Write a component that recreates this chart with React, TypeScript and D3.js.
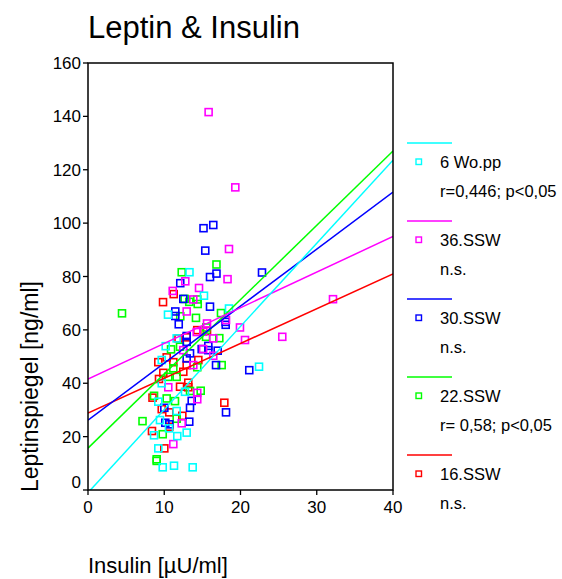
import React from "react";
import * as d3 from "d3";

// ---------- data ----------
const seriesNames = ["6 Wo.pp", "36.SSW", "30.SSW", "22.SSW", "16.SSW"];
const seriesStats = ["r=0,446; p<0,05", "n.s.", "n.s.", "r= 0,58; p<0,05", "n.s."];
const seriesColors = ["#00ffff", "#ff00ff", "#0000ff", "#00ff00", "#ff0000"];

// [insulin, leptin]
const cyanPoints: [number, number][] = [
  [13.31, 81.6], [15.21, 72.8], [18.49, 68.0], [10.49, 65.7], [22.43, 46.2], [11.63, 56.8],
  [10.19, 53.9], [9.67, 48.7], [9.67, 40.0], [12.72, 36.8], [9.22, 33.1], [11.63, 29.6],
  [9.44, 26.2], [10.62, 23.1], [8.66, 20.5], [11.71, 20.2], [12.94, 21.5], [9.22, 15.6],
  [9.8, 8.5], [11.28, 9.1], [13.73, 8.5],
];
const magentaPoints: [number, number][] = [
  [15.82, 141.6], [19.32, 113.4], [18.49, 90.3], [18.3, 79.0], [12.76, 78.2], [14.56, 75.7],
  [11.11, 74.6], [13.81, 71.4], [12.94, 66.9], [15.61, 62.4], [19.93, 60.9], [20.59, 56.2],
  [25.48, 57.4], [32.13, 71.5], [14.26, 59.2], [15.12, 59.3], [16.43, 56.8], [12.5, 52.4],
  [16.43, 50.3], [13.81, 46.8], [10.53, 38.5], [14.33, 36.4], [14.33, 34.0], [12.29, 25.0],
  [11.19, 17.2], [18.1, 63.7], [15.1, 52.8],
];
const bluePoints: [number, number][] = [
  [15.15, 98.1], [16.43, 99.3], [15.38, 89.7], [16.0, 79.8], [16.85, 81.1], [22.82, 81.5],
  [12.1, 77.5], [12.5, 71.6], [16.0, 68.7], [11.45, 66.9], [11.45, 65.2], [11.9, 62.1],
  [18.06, 63.0], [18.06, 61.9], [12.94, 57.7], [12.94, 55.5], [14.91, 52.8], [15.78, 54.0],
  [15.78, 52.4], [17.01, 52.2], [13.38, 51.2], [12.94, 49.3], [16.79, 46.8], [21.15, 44.9],
  [13.6, 33.4], [13.38, 30.8], [18.1, 29.1], [10.01, 30.8], [13.28, 25.6], [10.14, 25.2],
  [10.66, 24.6],
];
const greenPoints: [number, number][] = [
  [16.85, 84.5], [12.29, 81.6], [12.68, 71.6], [13.28, 70.5], [14.33, 71.4], [14.39, 69.7],
  [4.46, 66.2], [12.1, 65.1], [14.16, 64.5], [17.44, 66.3], [15.51, 60.9], [15.48, 57.4],
  [17.22, 56.9], [10.89, 52.7], [12.07, 53.7], [17.53, 46.8], [14.33, 46.0], [11.19, 45.6],
  [10.53, 42.4], [11.63, 42.4], [14.78, 37.2], [13.38, 37.1], [8.66, 35.3], [10.32, 34.3],
  [11.41, 33.3], [7.15, 25.8], [11.63, 26.7], [9.8, 20.9], [9.01, 11.5], [9.01, 10.9],
];
const redPoints: [number, number][] = [
  [9.84, 70.4], [11.24, 73.4], [14.33, 59.9], [15.61, 59.6], [11.87, 56.8], [12.94, 57.2],
  [10.32, 49.7], [9.22, 47.9], [11.19, 47.9], [12.94, 46.8], [14.47, 48.7], [9.88, 43.9],
  [12.5, 44.3], [9.31, 41.6], [12.07, 38.7], [13.15, 40.2], [13.15, 38.5], [8.46, 34.6],
  [17.88, 32.7], [9.67, 30.3], [10.66, 29.1], [12.37, 27.8], [10.66, 23.7], [8.39, 22.1],
  [10.01, 15.6],
];
const seriesPoints = [cyanPoints, magentaPoints, bluePoints, greenPoints, redPoints];

// regression lines: leptin at insulin = 0 and at insulin = 40
const fitStart = [-1, 41.6, 26.2, 15.7, 28.8];
const fitEnd = [123.6, 95, 111.6, 127, 81];

const xTicks = [0, 10, 20, 30, 40];
const yTicks = [0, 20, 40, 60, 80, 100, 120, 140, 160];

// ---------- layout ----------
const W = 562, H = 579;
const left = 88, right = 393, top = 63, bottom = 490;
const FONT = "Liberation Sans, Arial, sans-serif";

export default function App() {
  const x = d3.scaleLinear().domain([0, 40]).range([left, right]);
  const y = d3.scaleLinear().domain([0, 160]).range([bottom, top]);
  const line = d3.line<[number, number]>().x(d => x(d[0])).y(d => y(d[1]));
  const drawOrder = [4, 3, 2, 1, 0];
  const sq = 7;

  return (
    <svg width={W} height={H} style={{ position: "absolute", left: 0, top: 0, background: "#fff" }}
      fontFamily={FONT}>
      <text x={88} y={38} fontSize={31}>Leptin &amp; Insulin</text>

      <defs>
        <clipPath id="plot"><rect x={left} y={top} width={right - left} height={bottom - top} /></clipPath>
      </defs>

      {/* points */}
      <g>
        {drawOrder.map(si => (
          <g key={si}>
            {seriesPoints[si].map((p, i) => (
              <rect key={i} x={x(p[0]) - sq / 2} y={y(p[1]) - sq / 2} width={sq} height={sq}
                fill="none" stroke={seriesColors[si]} strokeWidth={1.6} />
            ))}
          </g>
        ))}
      </g>

      {/* fit lines */}
      <g clipPath="url(#plot)">
        {drawOrder.map(si => (
          <path key={si} d={line([[0, fitStart[si]], [40, fitEnd[si]]]) || ""}
            stroke={seriesColors[si]} strokeWidth={1.5} fill="none" />
        ))}
      </g>

      {/* frame */}
      <rect x={left} y={top} width={right - left} height={bottom - top} fill="none" stroke="#000" strokeWidth={1.5} />

      {/* y axis */}
      {yTicks.map(t => (
        <g key={t}>
          <line x1={left - 5} x2={left} y1={y(t)} y2={y(t)} stroke="#000" strokeWidth={1.3} />
          <text x={left - 7} y={y(t) + (t === 0 ? -2 : 6)} fontSize={17} textAnchor="end">{t}</text>
        </g>
      ))}
      {/* x axis */}
      {xTicks.map(t => (
        <g key={t}>
          <line x1={x(t)} x2={x(t)} y1={bottom} y2={bottom + 5} stroke="#000" strokeWidth={1.3} />
          <text x={x(t)} y={bottom + 23} fontSize={17} textAnchor="middle">{t}</text>
        </g>
      ))}

      <text x={88} y={573} fontSize={22}>Insulin [µU/ml]</text>
      <text transform={`translate(38,492) rotate(-90)`} fontSize={23}>Leptinspiegel [ng/ml]</text>

      {/* legend */}
      {seriesNames.map((name, i) => {
        const y0 = 143 + i * 78;
        return (
          <g key={name}>
            <line x1={407} x2={452} y1={y0} y2={y0} stroke={seriesColors[i]} strokeWidth={1.3} />
            <rect x={416} y={y0 + 16} width={5.5} height={5.5} fill="none" stroke={seriesColors[i]} strokeWidth={1.4} />
            <text x={440} y={y0 + 25} fontSize={16.5}>{name}</text>
            <text x={440} y={y0 + 54} fontSize={16.5}>{seriesStats[i]}</text>
          </g>
        );
      })}
    </svg>
  );
}
